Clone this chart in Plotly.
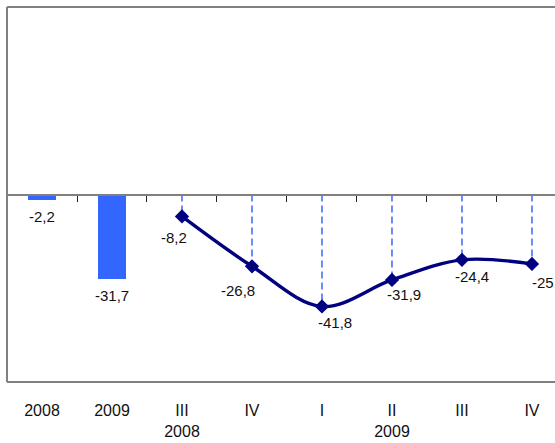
import plotly.graph_objects as go

# ---- data ----
categories = ["2008", "2009", "III", "IV", "I", "II", "III", "IV"]
group_labels = ["", "", "2008", "", "", "2009", "", ""]
annual_years = ["2008", "2009"]
annual_values = [-2.2, -31.7]
quarter_labels = ["III", "IV", "I", "II", "III", "IV"]
quarter_values = [-8.2, -26.8, -41.8, -31.9, -24.4, -25.9]

# label offsets (pixels) for the quarterly data labels
q_label_dx = [-8, -14, 13, 12, 10, 17]
q_label_dy = [-21, -24, -16, -15, -17, -19]

BLUE = "#3366FF"
NAVY = "#000080"
FONT = "Liberation Sans, Arial, sans-serif"

def fmt(v):
    return f"{v:.1f}".replace(".", ",")

n_annual = len(annual_values)
bar_x = list(range(n_annual))
q_x = list(range(n_annual, n_annual + len(quarter_values)))

fig = go.Figure()

# annual bars
fig.add_trace(go.Bar(
    x=bar_x, y=annual_values, width=0.4,
    marker=dict(color=BLUE, line=dict(width=0)),
    hoverinfo="skip", showlegend=False,
))

# dashed drop lines from zero to each quarterly point
dx, dy = [], []
for xv, yv in zip(q_x, quarter_values):
    dx += [xv, xv, None]
    dy += [0, yv, None]
fig.add_trace(go.Scatter(
    x=dx, y=dy, mode="lines",
    line=dict(color="#2B5CFF", width=1.4, dash="7px,4px"),
    hoverinfo="skip", showlegend=False,
))

# quarterly line
fig.add_trace(go.Scatter(
    x=q_x, y=quarter_values, mode="lines+markers",
    line=dict(color=NAVY, width=3.4, shape="spline", smoothing=1.0),
    marker=dict(symbol="diamond", size=11, color=NAVY),
    hoverinfo="skip", showlegend=False,
))

annotations = []
for xv, yv in zip(bar_x, annual_values):
    annotations.append(dict(
        x=xv, y=yv, xref="x", yref="y", text=fmt(yv), showarrow=False,
        yshift=-16, font=dict(family=FONT, size=15, color="#111"),
    ))
for xv, yv, ox, oy in zip(q_x, quarter_values, q_label_dx, q_label_dy):
    annotations.append(dict(
        x=xv, y=yv, xref="x", yref="y", text=fmt(yv), showarrow=False,
        xshift=ox, yshift=oy, font=dict(family=FONT, size=15, color="#111"),
    ))

ticktext = [c + ("<br>" + g if g else "") for c, g in zip(categories, group_labels)]
xrange = [-0.5, 7.329]

frame = dict(color="#808080", width=2)
shapes = [
    dict(type="line", xref="paper", yref="paper", x0=0, x1=0, y0=0, y1=1, line=frame),
    dict(type="line", xref="paper", yref="paper", x0=0, x1=1, y0=1, y1=1, line=frame),
    dict(type="line", xref="paper", yref="paper", x0=0, x1=1, y0=0, y1=0, line=frame),
]

fig.update_layout(
    width=555, height=443,
    margin=dict(l=7, r=0, t=7, b=61),
    paper_bgcolor="white", plot_bgcolor="white",
    bargap=0,
    xaxis=dict(
        range=xrange, tickmode="array",
        tickvals=list(range(len(categories))), ticktext=ticktext,
        showgrid=False, zeroline=False, showline=False,
        ticks="outside", ticklen=14, tickcolor="rgba(0,0,0,0)",
        tickfont=dict(family=FONT, size=16, color="#111"),
        fixedrange=True, automargin=False,
    ),
    xaxis2=dict(
        range=xrange, overlaying="x", anchor="free", position=0.5, side="bottom",
        tickmode="array", tickvals=[i + 0.5 for i in range(len(categories))],
        showticklabels=False, showgrid=False, zeroline=False,
        showline=True, linecolor="#808080", linewidth=2,
        ticks="outside", ticklen=6, tickwidth=1, tickcolor="#222",
    ),
    yaxis=dict(
        range=[-70, 70], showgrid=False, zeroline=False, showline=False,
        showticklabels=False, ticks="", fixedrange=True,
    ),
    annotations=annotations,
    shapes=shapes,
)

# dummy invisible trace so xaxis2 is drawn
fig.add_trace(go.Scatter(x=[0], y=[0], xaxis="x2", mode="markers",
                         marker=dict(opacity=0), hoverinfo="skip", showlegend=False))

fig.write_html(
    "out.html",
    config={"displayModeBar": False},
    post_script="document.body.style.margin='0px';document.body.style.overflow='hidden';",
)
